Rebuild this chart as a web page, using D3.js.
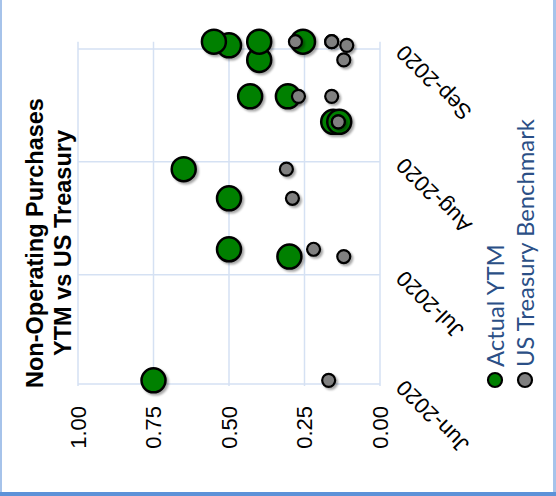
<!DOCTYPE html>
<html><head><meta charset="utf-8">
<script src="https://cdn.jsdelivr.net/npm/d3@7"></script>
<style>body{margin:0;background:#fff} svg{display:block}</style>
</head><body>
<svg id="chart" width="556" height="496"></svg>
<script>
// ---- data ----
const purchaseDates = ["2020-06-02","2020-07-06","2020-07-08","2020-07-22","2020-07-30","2020-08-12","2020-08-12","2020-08-19","2020-08-19","2020-08-29","2020-09-02","2020-09-03","2020-09-03","2020-09-03"];
const actualYTM =        [0.75, 0.30, 0.50, 0.50, 0.65, 0.155, 0.135, 0.43, 0.305, 0.40, 0.50, 0.55, 0.40, 0.255];
const treasuryBenchmark = [0.17, 0.12, 0.22, 0.29, 0.31, 0.138, 0.138, 0.16, 0.27, 0.12, 0.11, 0.16, 0.16, 0.28];
const valueTicks = [0, 0.25, 0.5, 0.75, 1];
const monthTicks = ["2020-06-01","2020-07-01","2020-08-01","2020-09-01"];
const monthLabels = ["Jun-2020","Jul-2020","Aug-2020","Sep-2020"];
const seriesNames = ["Actual YTM","US Treasury Benchmark"];
const seriesColors = ["#008000","#808080"];
const titleLines = ["Non-Operating Purchases","YTM vs US Treasury"];
const dateDomain = ["2020-06-01","2020-09-03"];

const parse = d3.utcParse("%Y-%m-%d");
const svg = d3.select("#chart");

// chart is drawn rotated: value runs right-to-left, dates bottom-to-top
const x = d3.scaleLinear().domain([0, 1]).range([380, 78]);
const y = d3.scaleUtc().domain(dateDomain.map(parse)).range([384, 41.7]);

const defs = svg.append("defs");
const f = defs.append("filter").attr("id","sh").attr("x","-50%").attr("y","-50%").attr("width","200%").attr("height","200%");
f.append("feDropShadow").attr("dx",2).attr("dy",2).attr("stdDeviation",1.3).attr("flood-color","#000").attr("flood-opacity",0.35);

// border
svg.append("rect").attr("x",0).attr("y",0).attr("width",2).attr("height",496).attr("fill","#a6c3ea");
svg.append("rect").attr("x",553).attr("y",0).attr("width",3).attr("height",496).attr("fill","#a6c3ea");
svg.append("rect").attr("x",0).attr("y",492).attr("width",556).attr("height",4).attr("fill","#5d92d8");

const gridColor = "#d5e1f3";
// value gridlines (vertical)
svg.append("g").selectAll("line").data(valueTicks).join("line")
  .attr("x1", d => x(d)).attr("x2", d => x(d))
  .attr("y1", y.range()[1]).attr("y2", y.range()[0] + 2)
  .attr("stroke", gridColor).attr("stroke-width", 1.5);
// month gridlines (horizontal)
svg.append("g").selectAll("line").data(monthTicks).join("line")
  .attr("x1", x(1)).attr("x2", x(0))
  .attr("y1", d => y(parse(d))).attr("y2", d => y(parse(d)))
  .attr("stroke", gridColor).attr("stroke-width", 1.5);

// value tick labels
svg.append("g").selectAll("text").data(valueTicks).join("text")
  .attr("transform", d => `translate(${x(d)},${y.range()[0] + 22}) rotate(-90)`)
  .attr("text-anchor","end").attr("dy","0.35em")
  .attr("font-family","'Liberation Sans', Arial, sans-serif").attr("font-size",22).attr("fill","#000")
  .text(d => d3.format(".2f")(d));

// date tick labels
svg.append("g").selectAll("text").data(monthTicks).join("text")
  .attr("transform", (d) => `translate(${x(0) + 20},${y(parse(d))}) rotate(-135)`)
  .attr("text-anchor","end").attr("dy","0.35em")
  .attr("font-family","'Liberation Sans', Arial, sans-serif").attr("font-size",22).attr("fill","#000")
  .text((d, i) => monthLabels[i]);

// title
svg.append("g").selectAll("text").data(titleLines).join("text")
  .attr("transform", (d, i) => `translate(${43 + i * 28},243) rotate(-90)`)
  .attr("text-anchor","middle")
  .attr("font-family","'Liberation Sans', Arial, sans-serif").attr("font-weight","bold").attr("font-size",23.5).attr("fill","#000")
  .text(d => d);

// points
const rows = purchaseDates.map((d, i) => ({date: parse(d), a: actualYTM[i], t: treasuryBenchmark[i]}));
svg.append("g").attr("filter","url(#sh)").selectAll("circle").data(rows).join("circle")
  .attr("cx", d => x(d.a)).attr("cy", d => y(d.date)).attr("r", 12)
  .attr("fill", seriesColors[0]).attr("stroke","#000").attr("stroke-width",2.5);
svg.append("g").attr("filter","url(#sh)").selectAll("circle").data(rows).join("circle")
  .attr("cx", d => x(d.t)).attr("cy", d => y(d.date)).attr("r", 6.5)
  .attr("fill", seriesColors[1]).attr("stroke","#000").attr("stroke-width",2.2);

// legend
const legX = [495, 525];
const legY = 380;
const lg = svg.append("g").selectAll("g").data(seriesNames).join("g");
lg.append("circle").attr("cx", (d, i) => legX[i]).attr("cy", legY).attr("r", 7)
  .attr("fill", (d, i) => seriesColors[i]).attr("stroke","#000").attr("stroke-width",2.2);
const lt = lg.append("text")
  .attr("transform", (d, i) => `translate(${legX[i]},${legY - 13}) rotate(-90)`)
  .attr("text-anchor","start").attr("dy","0.36em")
  .attr("font-family","Lato, 'Open Sans', sans-serif").attr("font-size",22).attr("fill","#2b4f86")
  .text(d => d);
// fit legend text size to the reference length of the longer entry
const L = lt.nodes()[1].getComputedTextLength();
lt.attr("font-size", 22 * 248 / L);
</script>
</body></html>
